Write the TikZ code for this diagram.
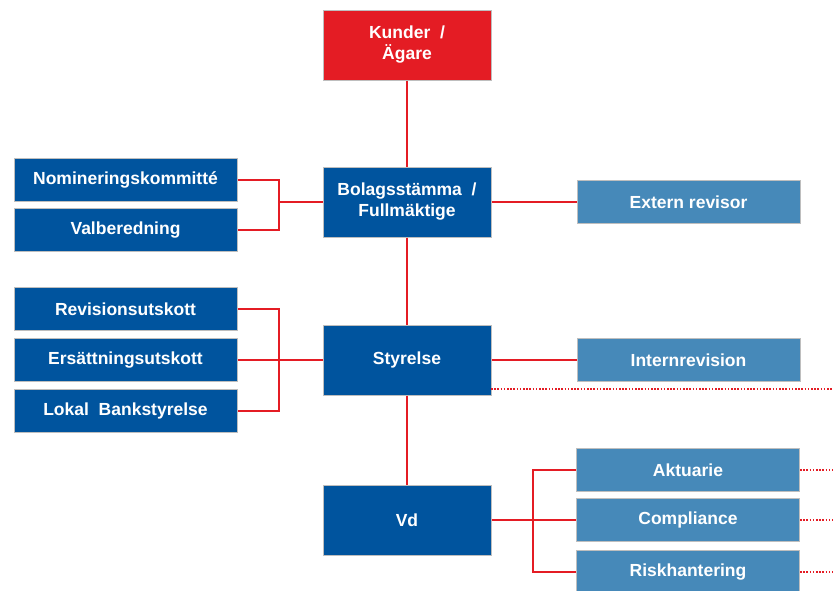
\documentclass[tikz,border=0pt]{standalone}
\usepackage{fontspec}
\setmainfont{Liberation Sans}
\definecolor{dblue}{RGB}{0,84,158}
\definecolor{lblue}{RGB}{70,137,185}
\definecolor{kred}{RGB}{228,28,36}
\definecolor{bord}{RGB}{190,190,190}
\begin{document}
\begin{tikzpicture}[x=1pt,y=-1pt,
  box/.style={draw=bord,line width=1pt,text=white,font=\fontsize{17.5}{21}\selectfont\bfseries,align=center,inner sep=0pt,anchor=center},
  mainbox/.style={box,fill=dblue,minimum width=168pt,minimum height=70pt},
  sidebox/.style={box,fill=dblue,minimum width=223pt,minimum height=43pt},
  rbox/.style={box,fill=lblue,minimum width=223pt,minimum height=43pt},
  link/.style={draw=kred,line width=1.3pt},
  dots/.style={draw=kred,line width=1.6pt,dash pattern=on 1.6pt off 1.6pt}]
\useasboundingbox (0,0) rectangle (833,590);
\begin{scope}
\clip (0,0) rectangle (833,590);
% main column
\node[mainbox,fill=kred] (kund) at (407,45) {Kunder \ /\\Ägare};
\node[mainbox] (bolag) at (407,202) {Bolagsstämma \ /\\Fullmäktige};
\node[mainbox] (styr) at (407,360) {Styrelse};
\node[mainbox] (vd) at (407,520) {Vd};
% left boxes
\node[sidebox] (nom) at (125.5,180) {Nomineringskommitté};
\node[sidebox] (val) at (125.5,230) {Valberedning};
\node[sidebox] (rev) at (125.5,309) {Revisionsutskott};
\node[sidebox] (ers) at (125.5,360) {Ersättningsutskott};
\node[sidebox] (lok) at (125.5,411) {Lokal \ Bankstyrelse};
% right boxes
\node[rbox] (ext) at (688.5,202) {Extern revisor};
\node[rbox] (int) at (688.5,360) {Internrevision};
\node[rbox] (akt) at (688,470) {Aktuarie};
\node[rbox] (com) at (688,520) {Compliance};
\node[rbox] (risk) at (688,572) {Riskhantering};
% coordinates
\coordinate (lb) at (279,0);
\coordinate (rb) at (533,0);
\coordinate (dot0) at (491,389);
\coordinate (edge) at (833,0);
% connectors
\draw[link] (kund.south) -- (bolag.north);
\draw[link] (bolag.south) -- (styr.north);
\draw[link] (styr.south) -- (vd.north);
\draw[link] (bolag.east) -- (ext.west);
\draw[link] (styr.east) -- (int.west);
\draw[link] (nom.east) -| (lb |- val.east) -- (val.east);
\draw[link] (bolag.west) -- (bolag.west -| lb);
\draw[link] (rev.east) -| (lb |- lok.east) -- (lok.east);
\draw[link] (ers.east) -- (styr.west);
\draw[link] (vd.east) -- (com.west);
\draw[link] (akt.west) -| (rb |- risk.west) -- (risk.west);
\draw[dots] (dot0) -- (dot0 -| edge);
\draw[dots] (akt.east) -- (akt.east -| edge);
\draw[dots] (com.east) -- (com.east -| edge);
\draw[dots] (risk.east) -- (risk.east -| edge);
\end{scope}
\end{tikzpicture}
\end{document}
